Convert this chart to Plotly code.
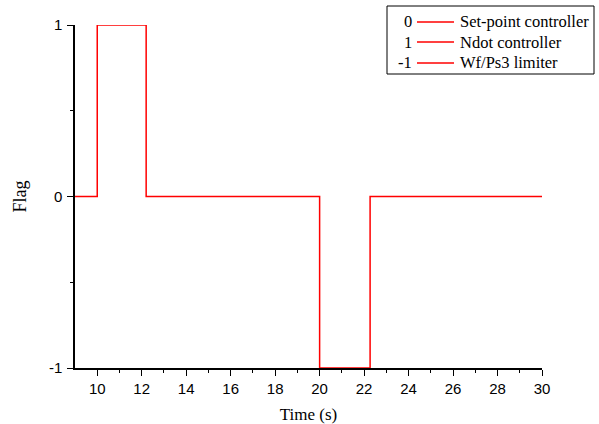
import plotly.graph_objects as go

# Data: step times and flag values
time_s = [9, 10, 10, 12.2, 12.2, 20, 20, 22.27, 22.27, 30]
flag = [0, 0, 1, 1, 0, 0, -1, -1, 0, 0]

x_ticks = list(range(10, 31, 2))
y_ticks = [-1, 0, 1]
y_tick_labels = ["-1", "0", "1"]

legend_codes = ["0", "1", "-1"]
legend_names = ["Set-point controller", "Ndot controller", "Wf/Ps3 limiter"]

W, H = 599, 424
L, R, T, B = 75, 542, 25, 368

def px(x):
    return (x - L) / (R - L)

def py(y):
    return (B - y) / (B - T)

SERIF = "Liberation Serif, Times New Roman"
SANS = "Liberation Sans, Arial"

fig = go.Figure()
fig.add_trace(go.Scatter(x=time_s, y=flag, mode="lines",
                         line=dict(color="#ff0000", width=1.5),
                         cliponaxis=False, showlegend=False, hoverinfo="skip"))

axis_common = dict(showgrid=False, zeroline=False, showline=True, linecolor="black",
                   linewidth=1.5, ticks="outside", ticklen=6, tickwidth=1.2,
                   tickcolor="black", automargin=False,
                   tickfont=dict(family=SANS, size=15, color="black"))

fig.update_xaxes(range=[9, 30], tickmode="array", tickvals=x_ticks,
                 minor=dict(tickvals=list(range(11, 30, 2)), ticks="outside", ticklen=3,
                            tickcolor="black", tickwidth=1.2),
                 title=dict(text="Time (s)", font=dict(family=SERIF, size=17, color="black"),
                            standoff=14),
                 **axis_common)
fig.update_yaxes(range=[-1, 1], tickmode="array", tickvals=y_ticks, ticktext=y_tick_labels,
                 ticklabelstandoff=2,
                 minor=dict(tickvals=[-0.5, 0.5], ticks="outside", ticklen=3,
                            tickcolor="black", tickwidth=1.2),
                 title=dict(text="Flag", font=dict(family=SERIF, size=18, color="black"),
                            standoff=18),
                 **axis_common)

shapes = [dict(type="rect", xref="paper", yref="paper",
               x0=px(387), x1=px(594), y0=py(74), y1=py(6),
               line=dict(color="black", width=1), fillcolor="white", layer="above")]
annotations = []
rows_y = [22, 42, 63]
for code, name, ry in zip(legend_codes, legend_names, rows_y):
    shapes.append(dict(type="line", xref="paper", yref="paper",
                       x0=px(417), x1=px(454), y0=py(ry), y1=py(ry),
                       line=dict(color="#ff0000", width=1.5), layer="above"))
    annotations.append(dict(xref="paper", yref="paper", x=px(414), y=py(ry),
                            text=code, showarrow=False, xanchor="right", yanchor="middle",
                            font=dict(family=SERIF, size=16.5, color="black")))
    annotations.append(dict(xref="paper", yref="paper", x=px(458), y=py(ry),
                            text=name, showarrow=False, xanchor="left", yanchor="middle",
                            font=dict(family=SERIF, size=16.5, color="black")))

fig.update_layout(width=W, height=H, margin=dict(l=L, r=W - R, t=T, b=H - B),
                  plot_bgcolor="white", paper_bgcolor="white",
                  shapes=shapes, annotations=annotations, showlegend=False)

fig.write_html("out.html")
